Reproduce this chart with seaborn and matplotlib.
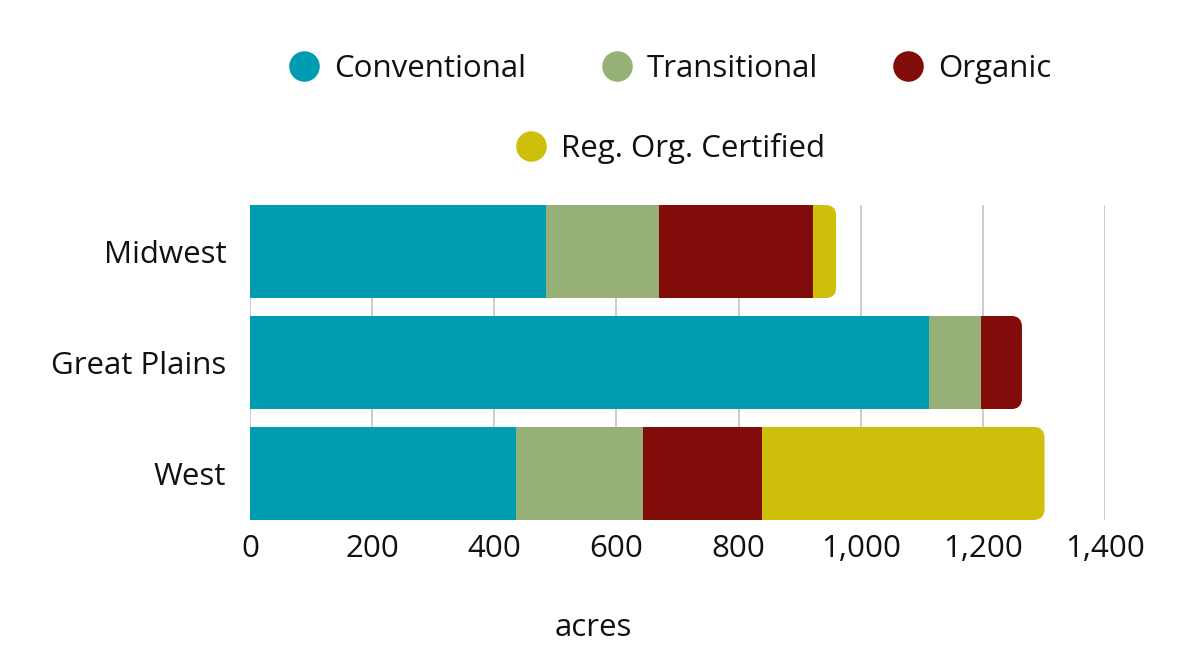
import pandas as pd
import matplotlib.pyplot as plt
import seaborn as sns
from matplotlib.lines import Line2D
from matplotlib.patches import FancyBboxPatch
from matplotlib.ticker import FuncFormatter


regions = ["Midwest", "Great Plains", "West"]
series = ["Conventional", "Transitional", "Organic", "Reg. Org. Certified"]
conventional = [485, 1112, 436]
transitional = [185, 85, 208]
organic = [252, 67, 195]
reg_org = [38, 0, 462]
x_ticks = [0, 200, 400, 600, 800, 1000, 1200, 1400]

colors = {
    "Conventional": "#009cb2",
    "Transitional": "#97b077",
    "Organic": "#820c09",
    "Reg. Org. Certified": "#cebf0a",
}

sns.set_style("white")
plt.rcParams["font.family"] = ["Open Sans", "DejaVu Sans"]
plt.rcParams["text.color"] = "#111111"
plt.rcParams["xtick.color"] = "#111111"
plt.rcParams["ytick.color"] = "#111111"

FS = 22.5

df = pd.DataFrame({
    "region": regions,
    "Conventional": conventional,
    "Transitional": transitional,
    "Organic": organic,
    "Reg. Org. Certified": reg_org,
})
cum = df[series].cumsum(axis=1)

fig = plt.figure(figsize=(11.8, 6.59), dpi=100)
ax = fig.add_axes([250 / 1180, 1 - 520 / 659, 855 / 1180, 315 / 659])

bar_w = 0.84
# stacked: draw cumulative totals, biggest first
for s in reversed(series):
    sns.barplot(x=cum[s], y=df["region"], color=colors[s], width=bar_w,
                orient="h", saturation=1, ax=ax)

ax.set_xlim(0, 1400)
ax.set_ylim(2 + bar_w / 2, -bar_w / 2)

# rounded right ends
px_x = 855 / 1400
px_y = 315 / (2 + bar_w)
r = 11 / px_x
asp = (11 / px_y) / r
clips = []
for i in range(len(regions)):
    total = cum.iloc[i, -1]
    clip = FancyBboxPatch((-200, i - bar_w / 2), total + 200, bar_w,
                          boxstyle=f"round,pad=0,rounding_size={r}",
                          mutation_aspect=asp, transform=ax.transData)
    clips.append(clip)
for p in ax.patches:
    idx = int(round(p.get_y() + p.get_height() / 2))
    p.set_clip_path(clips[idx])
    p.set_linewidth(0)

ax.set_xticks(x_ticks)
ax.xaxis.set_major_formatter(FuncFormatter(lambda v, _: f"{v:,.0f}"))
ax.grid(axis="x", color="#c4c4c4", lw=1.2)
ax.grid(axis="y", visible=False)
ax.set_axisbelow(True)
for sp in ax.spines.values():
    sp.set_visible(False)
ax.tick_params(axis="x", length=0, pad=10, labelsize=FS)
ax.tick_params(axis="y", length=0, pad=17, labelsize=FS)
ax.set_xlabel("")
ax.set_ylabel("")

fig.text(593 / 1180, 1 - 628 / 659, "acres", ha="center", va="center", fontsize=FS)

def handle(s):
    return Line2D([], [], marker="o", ls="", markersize=22,
                  markerfacecolor=colors[s], markeredgewidth=0)

fig.legend([handle(s) for s in series[:3]], series[:3], loc="center",
           bbox_to_anchor=(670 / 1180, 1 - 69 / 659), ncol=3, frameon=False,
           fontsize=FS, handletextpad=0.45, columnspacing=2.4, handlelength=1.0)
fig.legend([handle(series[3])], [series[3]], loc="center",
           bbox_to_anchor=(670 / 1180, 1 - 148 / 659), frameon=False,
           fontsize=FS, handletextpad=0.45, handlelength=1.0)

plt.savefig("out.png", dpi=100)
